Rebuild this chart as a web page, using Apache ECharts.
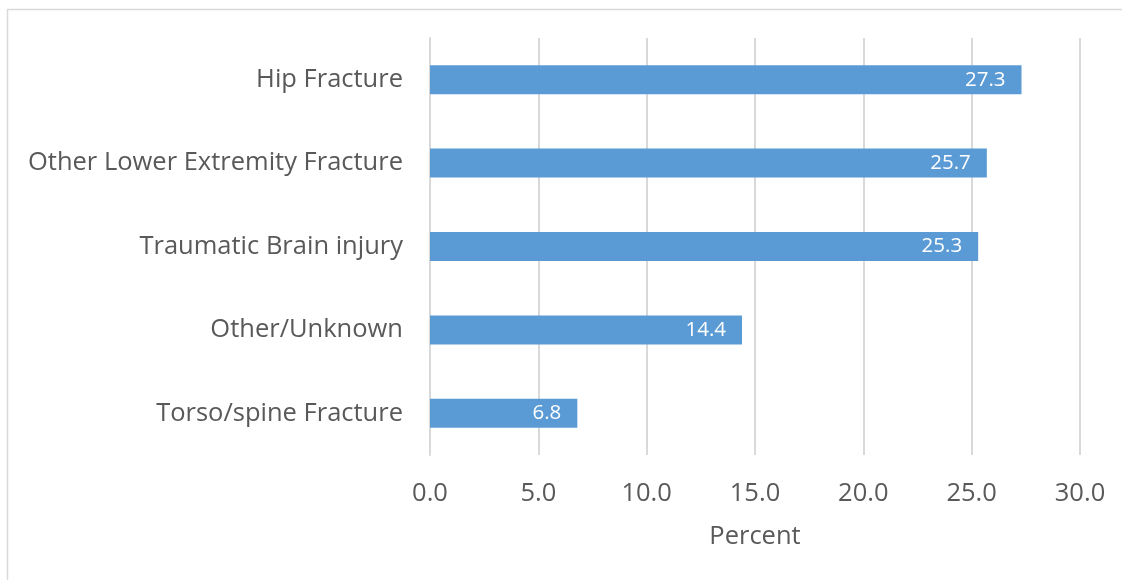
<!DOCTYPE html>
<html>
<head>
<meta charset="utf-8">
<script src="https://cdn.jsdelivr.net/npm/echarts@6/dist/echarts.min.js"></script>
<style>
  html, body { margin: 0; padding: 0; background: #fff; }
  #container { width: 1122px; height: 580px; }
</style>
</head>
<body>
<div id="container"></div>
<script>
var categories = ['Torso/spine Fracture', 'Other/Unknown', 'Traumatic Brain injury', 'Other Lower Extremity Fracture', 'Hip Fracture'];
var percents = [6.8, 14.4, 25.3, 25.7, 27.3];

var myChart = echarts.init(document.getElementById('container'));
var font = '"Open Sans", sans-serif';

var option = {
    backgroundColor: '#fff',
    animation: false,
    graphic: [{
        type: 'rect',
        shape: { x: 7.5, y: 9.5, width: 1130, height: 600 },
        style: { fill: 'none', stroke: '#d9d9d9', lineWidth: 1.5 }
    }],
    grid: { left: 430, right: 42, top: 38, bottom: 125 },
    xAxis: {
        type: 'value',
        min: 0,
        max: 30,
        interval: 5,
        name: 'Percent',
        nameLocation: 'middle',
        nameGap: 69,
        nameTextStyle: { color: '#595959', fontSize: 25.5, fontFamily: font },
        axisLine: { show: false },
        axisTick: { show: false },
        axisLabel: {
            color: '#595959', fontSize: 25.5, fontFamily: font, margin: 26,
            formatter: function (v) { return v.toFixed(1); }
        },
        splitLine: { show: true, lineStyle: { color: '#d9d9d9', width: 2 } }
    },
    yAxis: {
        type: 'category',
        data: categories,
        axisLine: { show: true, lineStyle: { color: '#d9d9d9', width: 2 } },
        axisTick: { show: false },
        axisLabel: { color: '#595959', fontSize: 25.5, fontFamily: font, margin: 27 }
    },
    series: [{
        type: 'bar',
        data: percents,
        barWidth: 29,
        itemStyle: { color: '#5b9bd5' },
        label: {
            show: true,
            position: 'insideRight',
            distance: 16,
            color: '#fff',
            fontSize: 20.5,
            fontFamily: font,
            formatter: function (p) { return p.value.toFixed(1); }
        }
    }]
};
myChart.setOption(option);
</script>
</body>
</html>
